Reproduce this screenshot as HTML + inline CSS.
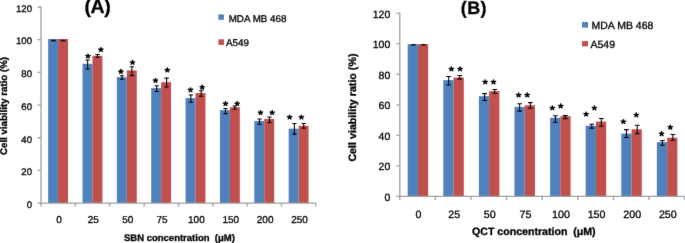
<!DOCTYPE html><html><head><meta charset="utf-8"><style>html,body{margin:0;padding:0;background:#fff;width:685px;height:243px;overflow:hidden}svg{display:block}text{font-family:"Liberation Sans",sans-serif;text-rendering:geometricPrecision;fill:#000;stroke:#000;stroke-width:0.3px}</style></head><body>
<svg width="685" height="243" viewBox="0 0 685 243">
<defs><filter id="bl" x="0" y="0" width="100%" height="100%" color-interpolation-filters="sRGB"><feConvolveMatrix order="3" kernelMatrix="0.0052 0.0619 0.0052 0.0619 0.7314 0.0619 0.0052 0.0619 0.0052" edgeMode="duplicate"/></filter><g id="ast" transform="scale(1,0.93)"><path d="M0 0L0.000 -2.200M0 0L2.092 -0.680M0 0L1.293 1.780M0 0L-1.293 1.780M0 0L-2.092 -0.680" stroke="#000" stroke-width="1.55" stroke-linecap="round" fill="none"/><path d="M0.000,-1.200 L0.353,-0.485 L1.141,-0.371 L0.571,0.185 L0.705,0.971 L0.000,0.600 L-0.705,0.971 L-0.571,0.185 L-1.141,-0.371 L-0.353,-0.485Z"/></g></defs>
<g filter="url(#bl)"><rect width="685" height="243" fill="#fff"/>
<rect x="48.15" y="39" width="9.94" height="164.1" fill="#4F81BD"/>
<rect x="58.09" y="39" width="9.94" height="164.1" fill="#C0504D"/>
<rect x="82.51" y="63.8" width="9.94" height="139.3" fill="#4F81BD"/>
<rect x="92.45" y="55.8" width="9.94" height="147.3" fill="#C0504D"/>
<rect x="116.87" y="77.2" width="9.94" height="125.9" fill="#4F81BD"/>
<rect x="126.81" y="70.4" width="9.94" height="132.7" fill="#C0504D"/>
<rect x="151.23" y="88.1" width="9.94" height="115" fill="#4F81BD"/>
<rect x="161.17" y="82.2" width="9.94" height="120.9" fill="#C0504D"/>
<rect x="185.59" y="98.1" width="9.94" height="105" fill="#4F81BD"/>
<rect x="195.53" y="93.1" width="9.94" height="110" fill="#C0504D"/>
<rect x="219.95" y="110.1" width="9.94" height="93" fill="#4F81BD"/>
<rect x="229.89" y="107.2" width="9.94" height="95.9" fill="#C0504D"/>
<rect x="254.31" y="121" width="9.94" height="82.1" fill="#4F81BD"/>
<rect x="264.25" y="118.9" width="9.94" height="84.2" fill="#C0504D"/>
<rect x="288.67" y="128.7" width="9.94" height="74.4" fill="#4F81BD"/>
<rect x="298.61" y="125.8" width="9.94" height="77.3" fill="#C0504D"/>
<path d="M41 6.52V203.1H315.88" fill="none" stroke="#A0A0A0" stroke-width="1.3"/>
<path d="M37.6 203.1H41M37.6 170.42H41M37.6 137.74H41M37.6 105.06H41M37.6 72.38H41M37.6 39.7H41M37.6 7.02H41M41 203.1V206.6M75.36 203.1V206.6M109.72 203.1V206.6M144.08 203.1V206.6M178.44 203.1V206.6M212.8 203.1V206.6M247.16 203.1V206.6M281.52 203.1V206.6M315.88 203.1V206.6" fill="none" stroke="#A0A0A0" stroke-width="1.3"/>
<rect x="51.05" y="39.8" width="4.8" height="1.6" fill="#111"/>
<rect x="60.75" y="39.8" width="4.8" height="1.6" fill="#111"/>
<path d="M87.6 60V69M85.5 60H89.7M85.5 69H89.7M97.5 54.4V57.3M95.4 54.4H99.6M95.4 57.3H99.6M122 75.7V79.2M119.9 75.7H124.1M119.9 79.2H124.1M131.9 66.8V75.6M129.8 66.8H134M129.8 75.6H134M156.7 85.8V91.4M154.6 85.8H158.8M154.6 91.4H158.8M166.6 78.1V86.9M164.5 78.1H168.7M164.5 86.9H168.7M190.9 95V102.2M188.8 95H193M188.8 102.2H193M201.2 90.7V96.3M199.1 90.7H203.3M199.1 96.3H203.3M225.5 108.5V113.6M223.4 108.5H227.6M223.4 113.6H227.6M234.8 105.9V109.2M232.7 105.9H236.9M232.7 109.2H236.9M259.5 118.9V124.3M257.4 118.9H261.6M257.4 124.3H261.6M269.5 116.9V122.8M267.4 116.9H271.6M267.4 122.8H271.6M294.4 123.4V134.1M292.3 123.4H296.5M292.3 134.1H296.5M303.7 123.4V128.3M301.6 123.4H305.8M301.6 128.3H305.8" fill="none" stroke="#000" stroke-width="1.05"/>
<use href="#ast" transform="translate(88,56.2)"/>
<use href="#ast" transform="translate(100.9,49.7)"/>
<use href="#ast" transform="translate(120.9,71.6)"/>
<use href="#ast" transform="translate(132.5,62.5)"/>
<use href="#ast" transform="translate(155.5,80.5)"/>
<use href="#ast" transform="translate(167.3,70.1)"/>
<use href="#ast" transform="translate(190.5,89.9)"/>
<use href="#ast" transform="translate(202.2,87.3)"/>
<use href="#ast" transform="translate(225.5,103.7)"/>
<use href="#ast" transform="translate(237.2,103.7)"/>
<use href="#ast" transform="translate(260.5,112.7)"/>
<use href="#ast" transform="translate(272.2,112.7)"/>
<use href="#ast" transform="translate(289.6,117.2)"/>
<use href="#ast" transform="translate(301.4,117.2)"/>
<text x="32" y="207.86" text-anchor="end" font-size="9.6">0</text>
<text x="32" y="175.18" text-anchor="end" font-size="9.6">20</text>
<text x="32" y="142.5" text-anchor="end" font-size="9.6">40</text>
<text x="32" y="109.82" text-anchor="end" font-size="9.6">60</text>
<text x="32" y="77.14" text-anchor="end" font-size="9.6">80</text>
<text x="32" y="44.46" text-anchor="end" font-size="9.6">100</text>
<text x="32" y="11.78" text-anchor="end" font-size="9.6">120</text>
<text x="58.98" y="223" text-anchor="middle" font-size="10">0</text>
<text x="93.34" y="223" text-anchor="middle" font-size="10">25</text>
<text x="127.7" y="223" text-anchor="middle" font-size="10">50</text>
<text x="162.06" y="223" text-anchor="middle" font-size="10">75</text>
<text x="196.42" y="223" text-anchor="middle" font-size="10">100</text>
<text x="230.78" y="223" text-anchor="middle" font-size="10">150</text>
<text x="265.14" y="223" text-anchor="middle" font-size="10">200</text>
<text x="299.5" y="223" text-anchor="middle" font-size="10">250</text>
<rect x="407.68" y="44.2" width="10.25" height="152.2" fill="#4F81BD"/>
<rect x="417.93" y="44.2" width="10.25" height="152.2" fill="#C0504D"/>
<rect x="443.28" y="80.1" width="10.25" height="116.3" fill="#4F81BD"/>
<rect x="453.53" y="77.5" width="10.25" height="118.9" fill="#C0504D"/>
<rect x="478.88" y="96.2" width="10.25" height="100.2" fill="#4F81BD"/>
<rect x="489.13" y="91.2" width="10.25" height="105.2" fill="#C0504D"/>
<rect x="514.48" y="106.9" width="10.25" height="89.5" fill="#4F81BD"/>
<rect x="524.73" y="105.3" width="10.25" height="91.1" fill="#C0504D"/>
<rect x="550.08" y="117.8" width="10.25" height="78.6" fill="#4F81BD"/>
<rect x="560.33" y="116.2" width="10.25" height="80.2" fill="#C0504D"/>
<rect x="585.68" y="125.7" width="10.25" height="70.7" fill="#4F81BD"/>
<rect x="595.93" y="121.6" width="10.25" height="74.8" fill="#C0504D"/>
<rect x="621.28" y="133.6" width="10.25" height="62.8" fill="#4F81BD"/>
<rect x="631.53" y="129.3" width="10.25" height="67.1" fill="#C0504D"/>
<rect x="656.88" y="142.1" width="10.25" height="54.3" fill="#4F81BD"/>
<rect x="667.13" y="137.7" width="10.25" height="58.7" fill="#C0504D"/>
<path d="M399.8 12.66V196.4H684.6" fill="none" stroke="#A0A0A0" stroke-width="1.3"/>
<path d="M396.4 196.4H399.8M396.4 165.86H399.8M396.4 135.32H399.8M396.4 104.78H399.8M396.4 74.24H399.8M396.4 43.7H399.8M396.4 13.16H399.8M399.8 196.4V199.9M435.4 196.4V199.9M471 196.4V199.9M506.6 196.4V199.9M542.2 196.4V199.9M577.8 196.4V199.9M613.4 196.4V199.9M649 196.4V199.9M684.6 196.4V199.9" fill="none" stroke="#A0A0A0" stroke-width="1.3"/>
<rect x="410.95" y="44.1" width="4.8" height="1.5" fill="#111"/>
<rect x="421.1" y="44.1" width="4.8" height="1.5" fill="#111"/>
<path d="M448.7 76.5V85M446.35 76.5H451.05M446.35 85H451.05M459.7 75.4V79.1M457.35 75.4H462.05M457.35 79.1H462.05M484.6 93.6V100.4M482.25 93.6H486.95M482.25 100.4H486.95M494.7 89.4V93.3M492.35 89.4H497.05M492.35 93.3H497.05M519.6 103.8V111.1M517.25 103.8H521.95M517.25 111.1H521.95M530.3 102.6V108.2M527.95 102.6H532.65M527.95 108.2H532.65M555.4 115.8V122.2M553.05 115.8H557.75M553.05 122.2H557.75M565.3 115.6V118.6M562.95 115.6H567.65M562.95 118.6H567.65M591.7 124.2V128.1M589.35 124.2H594.05M589.35 128.1H594.05M601.3 118.5V126.3M598.95 118.5H603.65M598.95 126.3H603.65M626.4 129.6V137.5M624.05 129.6H628.75M624.05 137.5H628.75M637.2 125.3V133.7M634.85 125.3H639.55M634.85 133.7H639.55M662.4 140.5V145.3M660.05 140.5H664.75M660.05 145.3H664.75M672.8 134.5V140.3M670.45 134.5H675.15M670.45 140.3H675.15" fill="none" stroke="#000" stroke-width="1.05"/>
<use href="#ast" transform="translate(451.4,69)"/>
<use href="#ast" transform="translate(460.1,69)"/>
<use href="#ast" transform="translate(485.2,82)"/>
<use href="#ast" transform="translate(493.5,82)"/>
<use href="#ast" transform="translate(518.6,95.1)"/>
<use href="#ast" transform="translate(527.2,95.1)"/>
<use href="#ast" transform="translate(552.3,108)"/>
<use href="#ast" transform="translate(560.7,106.1)"/>
<use href="#ast" transform="translate(586.1,114.2)"/>
<use href="#ast" transform="translate(594.4,108)"/>
<use href="#ast" transform="translate(623.4,121.7)"/>
<use href="#ast" transform="translate(636.3,115)"/>
<use href="#ast" transform="translate(661.6,133.8)"/>
<use href="#ast" transform="translate(670.3,127.3)"/>
<text x="390.3" y="200.78" text-anchor="end" font-size="10.5">0</text>
<text x="390.3" y="170.24" text-anchor="end" font-size="10.5">20</text>
<text x="390.3" y="139.7" text-anchor="end" font-size="10.5">40</text>
<text x="390.3" y="109.16" text-anchor="end" font-size="10.5">60</text>
<text x="390.3" y="78.62" text-anchor="end" font-size="10.5">80</text>
<text x="390.3" y="48.08" text-anchor="end" font-size="10.5">100</text>
<text x="390.3" y="17.54" text-anchor="end" font-size="10.5">120</text>
<text x="418.6" y="217.6" text-anchor="middle" font-size="10.7">0</text>
<text x="454.2" y="217.6" text-anchor="middle" font-size="10.7">25</text>
<text x="489.8" y="217.6" text-anchor="middle" font-size="10.7">50</text>
<text x="525.4" y="217.6" text-anchor="middle" font-size="10.7">75</text>
<text x="561" y="217.6" text-anchor="middle" font-size="10.7">100</text>
<text x="596.6" y="217.6" text-anchor="middle" font-size="10.7">150</text>
<text x="632.2" y="217.6" text-anchor="middle" font-size="10.7">200</text>
<text x="667.8" y="217.6" text-anchor="middle" font-size="10.7">250</text>
<text x="84.6" y="13.25" font-size="19.5" font-weight="bold" letter-spacing="-0.5">(A)</text>
<text x="460.8" y="14.3" font-size="18" font-weight="bold" letter-spacing="0.4">(B)</text>
<text transform="translate(7.2,155) rotate(-90)" font-size="9.7" font-weight="bold">Cell viability ratio (%)</text>
<text transform="translate(356.3,161.6) rotate(-90)" font-size="10.7" font-weight="bold">Cell viability ratio (%)</text>
<text x="124" y="240.6" font-size="9.5" font-weight="bold" xml:space="preserve">SBN concentration  (μM)</text>
<text x="472" y="234.8" font-size="10.6" font-weight="bold" xml:space="preserve">QCT concentration  (μM)</text>
<rect x="218.4" y="14.4" width="5.5" height="5.4" fill="#4F81BD"/>
<text x="228.7" y="21.7" font-size="9.8">MDA MB 468</text>
<rect x="218.4" y="39.3" width="5.6" height="5.6" fill="#C0504D"/>
<text x="226" y="46.2" font-size="9.8">A549</text>
<rect x="582" y="22" width="6" height="5.6" fill="#4F81BD"/>
<text x="591.5" y="29.4" font-size="10.5">MDA MB 468</text>
<rect x="582" y="41.1" width="6" height="5.2" fill="#C0504D"/>
<text x="590.5" y="48" font-size="10.5">A549</text>
</g></svg></body></html>
